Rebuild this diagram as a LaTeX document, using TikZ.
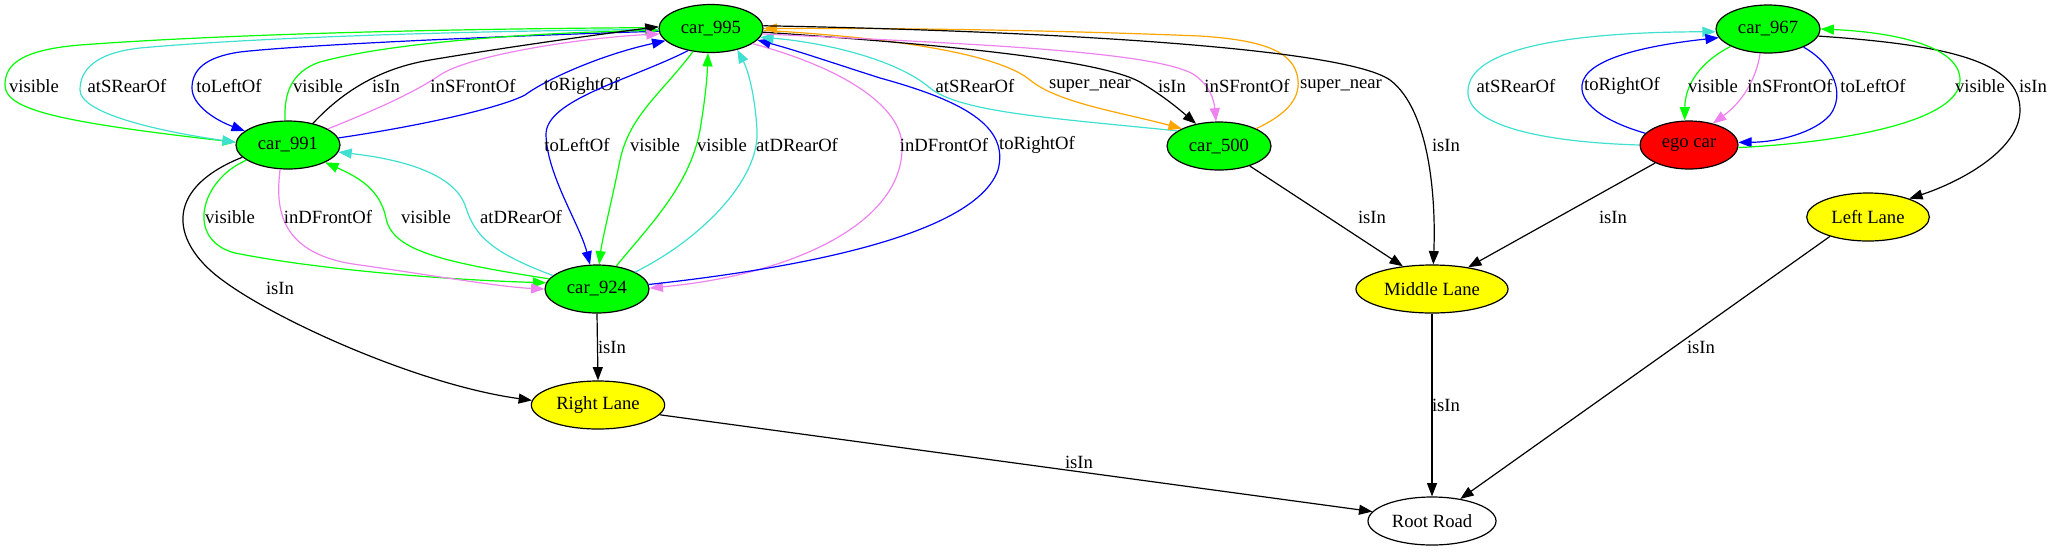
\documentclass[tikz,border=0pt]{standalone}
\usepackage{fontspec}
\setmainfont{Liberation Serif}
\usetikzlibrary{arrows.meta,shapes.geometric}
\definecolor{gvgreen}{HTML}{00FF00}
\definecolor{gvturq}{HTML}{40E0D0}
\definecolor{gvblue}{HTML}{0000FF}
\definecolor{gvviolet}{HTML}{EE82EE}
\definecolor{gvorange}{HTML}{FFA500}
\definecolor{gvyellow}{HTML}{FFFF00}
\definecolor{gvred}{HTML}{FF0000}
\begin{document}
\begin{tikzpicture}[x=0.75pt,y=-0.75pt,
  every node/.style={font=\fontsize{14}{16}\selectfont},
  nd/.style={ellipse,draw=black,line width=0.9pt,inner sep=0pt,minimum height=36pt},
  car/.style={nd,fill=gvgreen,minimum width=78pt},
  lane/.style={nd,fill=gvyellow},
  lbl/.style={inner sep=0pt},
  conn/.style={-{Triangle[length=10pt,width=7.5pt]},line width=0.9pt},
  gr/.style={gvgreen}, tq/.style={gvturq}, bl/.style={gvblue},
  vi/.style={gvviolet}, og/.style={gvorange}, bk/.style={black}]
\useasboundingbox (0,0) rectangle (2052,551);
% nodes
\node[car] (c995) at (711,28.5) {car\_995};
\node[car] (c991) at (288,145) {car\_991};
\node[car] (c924) at (597,289) {car\_924};
\node[car] (c500) at (1219,146) {car\_500};
\node[car] (c967) at (1768,29) {car\_967};
\node[nd,fill=gvred,minimum width=73.5pt] (ego) at (1689,145) {ego car};
\node[lane,minimum width=92pt] (ll) at (1868,217) {Left Lane};
\node[lane,minimum width=114pt] (ml) at (1432,289) {Middle Lane};
\node[lane,minimum width=100pt] (rl) at (598,405) {Right Lane};
\node[nd,minimum width=96pt] (rr) at (1432,521) {Root Road};
% car_995 <-> car_991
\draw[conn,gr] (c995.179) .. controls (400,29) and (200,36) .. (80,45) .. controls (20,50) and (5,65) .. (5,85) .. controls (5,110) and (60,122) .. (c991.177);
\draw[conn,tq] (c995.181) .. controls (450,31) and (250,38) .. (140,48) .. controls (95,53) and (80,70) .. (80,90) .. controls (80,112) and (150,130) .. (c991.177);
\draw[conn,bl] (c995.183) .. controls (500,36) and (300,45) .. (240,52) .. controls (205,57) and (192,70) .. (192,88) .. controls (192,105) and (215,120) .. (c991.162);
\draw[conn,gr] (c991.97) .. controls (284,95) and (290,72) .. (320,62) .. controls (400,40) and (560,32) .. (c995.182);
\draw[conn,bk] (c991.41) .. controls (335,100) and (370,70) .. (430,60) .. controls (520,45) and (610,33) .. (c995.178);
\draw[conn,vi] (c991.22) .. controls (380,108) and (415,92) .. (440,75) .. controls (470,55) and (580,38) .. (c995.186);
\draw[conn,bl] (c991.8) .. controls (420,126) and (500,108) .. (525,95) .. controls (545,80) and (600,55) .. (c995.195);
\node[lbl] (la1) at (34,86) {visible};
\node[lbl] (la2) at (127,86) {atSRearOf};
\node[lbl] (la3) at (229,86) {toLeftOf};
\node[lbl] (la4) at (318,86) {visible};
\node[lbl] (la5) at (386,86) {isIn};
\node[lbl] (la6) at (473,86) {inSFrontOf};
\node[lbl] (la7) at (582,86) {toRightOf};
% car_995 <-> car_924
\draw[conn,bl] (c995.224) .. controls (630,80) and (545,100) .. (546,135) .. controls (547,175) and (580,225) .. (c924.106);
\draw[conn,gr] (c995.232) .. controls (660,95) and (630,115) .. (620,160) .. controls (612,200) and (602,240) .. (c924.85);
\draw[conn,gr] (c924.50) .. controls (650,225) and (690,185) .. (700,130) .. controls (705,100) and (707,80) .. (c995.263);
\draw[conn,tq] (c924.24) .. controls (700,240) and (760,180) .. (757,130) .. controls (755,95) and (748,70) .. (c995.321);
\draw[conn,vi] (c995.340) .. controls (850,70) and (905,110) .. (902,150) .. controls (900,225) and (790,275) .. (c924.1);
\draw[conn,bl] (c924.5) .. controls (800,268) and (975,235) .. (998,170) .. controls (1010,125) and (960,100) .. (880,78) .. controls (830,62) and (795,50) .. (c995.346);
\node[lbl] (lb1) at (577,145) {toLeftOf};
\node[lbl] (lb2) at (655,145) {visible};
\node[lbl] (lb3) at (722,145) {visible};
\node[lbl] (lb4) at (797,145) {atDRearOf};
\node[lbl] (lb5) at (944,145) {inDFrontOf};
\node[lbl] (lb6) at (1037,145) {toRightOf};
% car_991 <-> car_924
\draw[conn,gr] (c991.200) .. controls (200,180) and (185,240) .. (235,253) .. controls (320,270) and (450,280) .. (c924.173);
\draw[conn,vi] (c991.252) .. controls (275,210) and (280,255) .. (360,265) .. controls (430,275) and (500,287) .. (c924.180);
\draw[conn,gr] (c924.168) .. controls (440,262) and (392,250) .. (386,218) .. controls (380,190) and (360,178) .. (c991.335);
\draw[conn,tq] (c924.163) .. controls (490,252) and (475,235) .. (466,208) .. controls (455,170) and (390,158) .. (c991.352);
\draw[conn,bk] (c991.195) .. controls (160,190) and (172,245) .. (225,282) .. controls (280,322) and (420,385) .. (rl.176);
\draw[conn,bk] (c924.south) -- (rl.north);
\node[lbl] (lc1) at (230,217) {visible};
\node[lbl] (lc2) at (328,217) {inDFrontOf};
\node[lbl] (lc3) at (426,217) {visible};
\node[lbl] (lc4) at (521,217) {atDRearOf};
\node[lbl] (lc5) at (280,288) {isIn};
\node[lbl] (lc6) at (612,347) {isIn};
% car_995 <-> car_500
\draw[conn,tq] (c500.160) .. controls (1050,118) and (960,112) .. (930,88) .. controls (895,58) and (820,42) .. (c995.350);
\draw[conn,og] (c995.358) .. controls (900,38) and (1000,55) .. (1030,80) .. controls (1058,103) and (1120,112) .. (c500.155);
\draw[conn,bk] (c995.356) .. controls (950,45) and (1100,60) .. (1140,82) .. controls (1165,97) and (1180,110) .. (c500.136);
\draw[conn,vi] (c995.354) .. controls (950,43) and (1150,50) .. (1193,74) .. controls (1210,85) and (1214,100) .. (c500.97);
\draw[conn,og] (c500.25) .. controls (1285,115) and (1300,100) .. (1298,80) .. controls (1295,50) and (1260,40) .. (1200,36) .. controls (1050,30) and (900,28) .. (c995.0);
\draw[conn,bk] (c995.3) .. controls (1000,30) and (1340,45) .. (1390,80) .. controls (1430,110) and (1436,200) .. (ml.87);
\node[lbl] (ld1) at (975,86) {atSRearOf};
\node[lbl] (ld2) at (1090,86) {super\_near};
\node[lbl] (ld3) at (1172,86) {isIn};
\node[lbl] (ld4) at (1247,86) {inSFrontOf};
\node[lbl] (ld5) at (1341,86) {super\_near};
\node[lbl] (ld6) at (1446,145) {isIn};
% lanes and road
\draw[conn,bk] (c500.327) -- (ml.142);
\draw[conn,bk] (ego.208) -- (ml.31);
\draw[conn,bk] (ml.south) -- (rr.north);
\draw[conn,bk] (rl.351) -- (rr.171);
\draw[conn,bk] (ll.207) -- (rr.38);
\draw[conn,bk] (c967.352) .. controls (1950,45) and (2020,62) .. (2020,110) .. controls (2020,150) and (1960,182) .. (ll.24);
\node[lbl] (le1) at (1372,217) {isIn};
\node[lbl] (le2) at (1613,217) {isIn};
\node[lbl] (le3) at (1446,405) {isIn};
\node[lbl] (le4) at (1079,462) {isIn};
\node[lbl] (le5) at (1701,347) {isIn};
\node[lbl] (le6) at (2033,86) {isIn};
% car_967 <-> ego car
\draw[conn,tq] (ego.180) .. controls (1540,142) and (1465,125) .. (1468,90) .. controls (1470,48) and (1570,32) .. (c967.183);
\draw[conn,bl] (ego.165) .. controls (1600,120) and (1580,102) .. (1582,85) .. controls (1585,58) and (1650,45) .. (c967.190);
\draw[conn,gr] (c967.205) .. controls (1700,62) and (1685,85) .. (ego.100);
\draw[conn,vi] (c967.252) .. controls (1756,80) and (1742,102) .. (ego.42);
\draw[conn,bl] (c967.333) .. controls (1835,65) and (1845,95) .. (1830,115) .. controls (1815,132) and (1780,142) .. (ego.3);
\draw[conn,gr] (ego.357) .. controls (1850,142) and (1960,120) .. (1960,80) .. controls (1960,45) and (1890,32) .. (c967.0);
\node[lbl] (lf1) at (1516,86) {atSRearOf};
\node[lbl] (lf2) at (1622,86) {toRightOf};
\node[lbl] (lf3) at (1713,86) {visible};
\node[lbl] (lf4) at (1790,86) {inSFrontOf};
\node[lbl] (lf5) at (1873,86) {toLeftOf};
\node[lbl] (lf6) at (1980,86) {visible};
\end{tikzpicture}
\end{document}
